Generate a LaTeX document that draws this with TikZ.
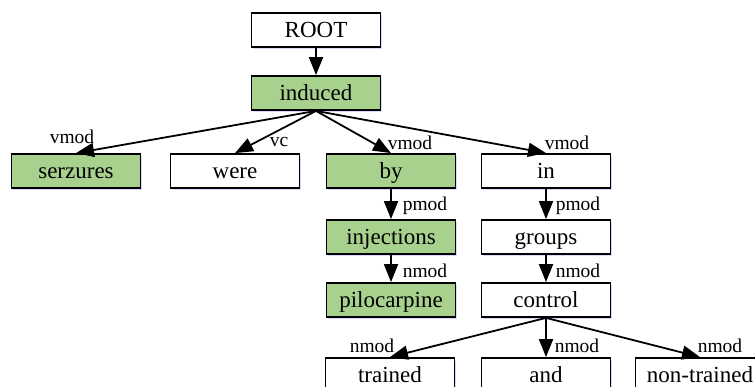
\documentclass[tikz,border=0pt]{standalone}
\usepackage{fontspec}
\setmainfont{Liberation Serif}
\usetikzlibrary{arrows.meta,shadows}
\definecolor{leafgreen}{RGB}{169,209,142}
\tikzset{
  wbox/.style={draw,line width=1.8pt,minimum width=129pt,minimum height=34pt,inner sep=0pt,fill=white,
    text height=15pt,text depth=0pt,font=\fontsize{23}{27}\selectfont,
    drop shadow={shadow xshift=1.5pt,shadow yshift=-2.5pt,fill=blue!15,opacity=1}},
  gbox/.style={wbox,fill=leafgreen},
  dep/.style={inner sep=0pt,font=\fontsize{19.5}{21}\selectfont},
  deparrow/.style={line width=1.8pt,-{Triangle[length=18pt,width=14pt]}}
}
\begin{document}
\begin{tikzpicture}[x=1pt,y=-1pt]
\useasboundingbox (0,0) rectangle (755,387);
\clip (0,0) rectangle (755,387);
\draw (316,30) node[wbox] (root) {ROOT};
\draw (316,93) node[gbox] (induced) {induced};
\draw (76,171) node[gbox] (serzures) {serzures};
\draw (235,171) node[wbox] (were) {were};
\draw (391,171) node[gbox] (by) {by};
\draw (546,171) node[wbox] (in) {in};
\draw (391,237) node[gbox] (injections) {injections};
\draw (391,300) node[gbox] (pilocarpine) {pilocarpine};
\draw (546,237) node[wbox] (groups) {groups};
\draw (546,300) node[wbox] (control) {control};
\draw (390,375) node[wbox] (trained) {trained};
\draw (546,375) node[wbox] (and) {and};
\draw (700,375) node[wbox] (nontrained) {non-trained};
\path (root) edge[deparrow] (induced);
\path (induced.south) edge[deparrow] (serzures.north);
\path (induced.south) edge[deparrow] (were.north);
\path (induced.south) edge[deparrow] (by.north);
\path (induced.south) edge[deparrow] (in.north);
\path (by) edge[deparrow] (injections);
\path (injections) edge[deparrow] (pilocarpine);
\path (in) edge[deparrow] (groups);
\path (groups) edge[deparrow] (control);
\path (control.south) edge[deparrow] (trained.north);
\path (control.south) edge[deparrow] (and.north);
\path (control.south) edge[deparrow] (nontrained.north);
\draw (72,137) node[dep] (l1) {vmod};
\draw (279,142) node[dep] (l2) {vc};
\draw (410,143) node[dep] (l3) {vmod};
\draw (567,143) node[dep] (l4) {vmod};
\draw (425,206) node[dep] (l5) {pmod};
\draw (578,206) node[dep] (l6) {pmod};
\draw (425,271) node[dep] (l7) {nmod};
\draw (578,271) node[dep] (l8) {nmod};
\draw (372,346) node[dep] (l9) {nmod};
\draw (577,346) node[dep] (l10) {nmod};
\draw (720,346) node[dep] (l11) {nmod};
\end{tikzpicture}
\end{document}
